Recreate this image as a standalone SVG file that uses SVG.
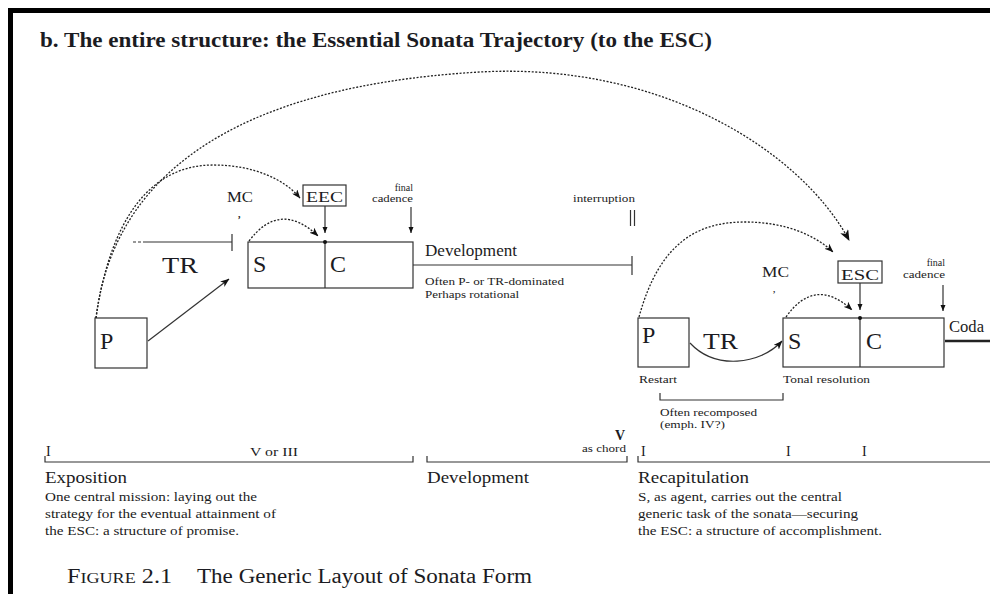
<svg xmlns="http://www.w3.org/2000/svg" width="990" height="594" viewBox="0 0 990 594">
<defs>
<marker id="ah" markerUnits="userSpaceOnUse" markerWidth="11" markerHeight="9" refX="10" refY="4.5" orient="auto"><path d="M0,0 L11,4.5 L0,9 L3,4.5 Z" fill="#111"/></marker>
<marker id="am" markerUnits="userSpaceOnUse" markerWidth="9" markerHeight="7" refX="8.5" refY="3.5" orient="auto"><path d="M0,0 L9,3.5 L0,7 L2.5,3.5 Z" fill="#111"/></marker>
<marker id="as" markerUnits="userSpaceOnUse" markerWidth="6" markerHeight="6" refX="6" refY="3" orient="auto"><path d="M0,0.5 L6,3 L0,5.5 Z" fill="#111"/></marker>
</defs>
<style>
text{font-family:"Liberation Serif","DejaVu Serif",serif;fill:#1b1b22}
.box{fill:none;stroke:#333;stroke-width:1.2}
.ln{fill:none;stroke:#333;stroke-width:1.2}
.dot{fill:none;stroke:#222;stroke-width:1.3;stroke-dasharray:2 1.6}
.big{font-size:24px}
.med{font-size:15px}
.lab{font-size:17px}
.sm{font-size:11px}
.xs{font-size:10px}
.desc{font-size:13px}
</style>
<rect width="990" height="594" fill="#fff"/>
<path d="M10.5,594 V10.5 H990" fill="none" stroke="#000" stroke-width="5"/>

<g id="title"><text x="40" y="47" font-size="20" font-weight="bold" textLength="672" lengthAdjust="spacingAndGlyphs">b. The entire structure: the Essential Sonata Trajectory (to the ESC)</text></g>

<g id="exp-P"><rect class="box" x="95" y="318" width="52" height="50"/><text class="big" x="100" y="349">P</text></g>
<g id="exp-TR"><path class="ln" d="M133,242 H146" stroke-dasharray="3 2" stroke="#888"/><path class="ln" d="M146,242 H232 M232,234 V251"/><text class="big" x="162" y="273" textLength="36" lengthAdjust="spacingAndGlyphs">TR</text></g>
<g id="exp-MC"><text class="med" x="227" y="202" textLength="26" lengthAdjust="spacingAndGlyphs">MC</text><text x="238" y="218" font-size="10" font-weight="bold">,</text></g>
<g id="exp-SC"><rect class="box" x="248" y="242" width="165" height="46"/><path class="ln" d="M325,242 V288"/><circle cx="325" cy="242" r="2" fill="#111"/><text class="big" x="253" y="272">S</text><text class="big" x="330" y="272">C</text></g>
<g id="EEC"><rect class="box" x="303" y="185" width="43" height="21"/><text x="306" y="202" font-size="15" textLength="37" lengthAdjust="spacingAndGlyphs">EEC</text></g>
<g id="exp-final-cadence"><text class="xs" x="413" y="191" text-anchor="end">final</text><text class="xs" x="413" y="202" text-anchor="end" textLength="41" lengthAdjust="spacingAndGlyphs">cadence</text></g>

<g id="development"><path class="ln" d="M413,265 H632 M632,256 V275"/><text class="lab" x="425" y="256" textLength="92" lengthAdjust="spacingAndGlyphs">Development</text><text class="sm" x="425" y="285" textLength="139" lengthAdjust="spacingAndGlyphs">Often P- or TR-dominated</text><text class="sm" x="425" y="298" textLength="94" lengthAdjust="spacingAndGlyphs">Perhaps rotational</text></g>
<g id="interruption"><text class="sm" x="573" y="202" textLength="62" lengthAdjust="spacingAndGlyphs">interruption</text><path class="ln" d="M630.5,210 V226 M634.5,210 V226"/></g>

<g id="rec-P"><rect class="box" x="638" y="318" width="51" height="49"/><text class="big" x="642" y="343">P</text><text class="sm" x="639" y="383" textLength="38" lengthAdjust="spacingAndGlyphs">Restart</text></g>
<g id="rec-TR"><text class="big" x="703" y="349" textLength="35" lengthAdjust="spacingAndGlyphs">TR</text><path class="ln" d="M660,393 V400 H783 V393"/><text class="sm" x="660" y="416" textLength="97" lengthAdjust="spacingAndGlyphs">Often recomposed</text><text class="sm" x="660" y="428" textLength="65" lengthAdjust="spacingAndGlyphs">(emph. IV?)</text></g>
<g id="rec-MC"><text class="med" x="762" y="277" textLength="27" lengthAdjust="spacingAndGlyphs">MC</text><text x="773" y="292" font-size="9" font-weight="bold">,</text></g>
<g id="rec-SC"><rect class="box" x="783" y="318" width="161" height="49"/><path class="ln" d="M860,318 V367"/><circle cx="860" cy="318" r="2" fill="#111"/><text class="big" x="788" y="349">S</text><text class="big" x="866" y="349">C</text><text class="sm" x="783" y="383" textLength="87" lengthAdjust="spacingAndGlyphs">Tonal resolution</text></g>
<g id="ESC"><rect class="box" x="838" y="261" width="44" height="22"/><text x="841" y="280" font-size="15" textLength="38" lengthAdjust="spacingAndGlyphs">ESC</text></g>
<g id="rec-final-cadence"><text class="xs" x="945" y="266" text-anchor="end">final</text><text class="xs" x="945" y="278" text-anchor="end" textLength="42" lengthAdjust="spacingAndGlyphs">cadence</text></g>
<g id="coda"><path d="M945,341 H990" stroke="#222" stroke-width="2.5"/><text x="949" y="332" font-size="16" textLength="35" lengthAdjust="spacingAndGlyphs">Coda</text></g>

<g id="timeline-exposition"><path class="ln" d="M45,456 V462 H413 V456"/><text x="46" y="456" font-size="14">I</text><text x="250" y="456" font-size="13" textLength="48" lengthAdjust="spacingAndGlyphs">V or III</text><text x="45" y="483" font-size="17" textLength="82" lengthAdjust="spacingAndGlyphs">Exposition</text><text class="desc" x="45" y="501" textLength="212" lengthAdjust="spacingAndGlyphs">One central mission: laying out the</text><text class="desc" x="45" y="518" textLength="231" lengthAdjust="spacingAndGlyphs">strategy for the eventual attainment of</text><text class="desc" x="45" y="535" textLength="194" lengthAdjust="spacingAndGlyphs">the ESC: a structure of promise.</text></g>
<g id="timeline-development"><path class="ln" d="M427,456 V462 H627 V456"/><text x="615" y="440" font-size="14" font-weight="bold">V</text><text class="sm" x="626" y="452" text-anchor="end" textLength="44" lengthAdjust="spacingAndGlyphs">as chord</text><text x="427" y="483" font-size="17" textLength="102" lengthAdjust="spacingAndGlyphs">Development</text></g>
<g id="timeline-recapitulation"><path class="ln" d="M638,456 V462 H990"/><text x="641" y="456" font-size="14">I</text><text x="786" y="456" font-size="14">I</text><text x="862" y="456" font-size="14">I</text><text x="638" y="483" font-size="17" textLength="111" lengthAdjust="spacingAndGlyphs">Recapitulation</text><text class="desc" x="638" y="501" textLength="204" lengthAdjust="spacingAndGlyphs">S, as agent, carries out the central</text><text class="desc" x="638" y="518" textLength="220" lengthAdjust="spacingAndGlyphs">generic task of the sonata—securing</text><text class="desc" x="638" y="535" textLength="244" lengthAdjust="spacingAndGlyphs">the ESC: a structure of accomplishment.</text></g>

<g id="caption"><text x="67" y="583" font-size="20" textLength="105" lengthAdjust="spacingAndGlyphs">F<tspan font-size="15">IGURE</tspan> 2.1</text><text x="197" y="583" font-size="20" textLength="335" lengthAdjust="spacingAndGlyphs">The Generic Layout of Sonata Form</text></g>

<g id="connectors">
<path class="dot" d="M96,318 C110,200 200,88 480,72 C660,62 800,150 849,240" marker-end="url(#ah)"/>
<path class="dot" d="M96,318 C110,220 150,165 213,165 C255,165 285,180 300,198" marker-end="url(#am)"/>
<path class="dot" d="M249,241 Q280,200 318,236" marker-end="url(#am)"/>
<path class="ln" d="M148,341 L229,279" marker-end="url(#am)"/>
<path class="ln" d="M325,206 V233" marker-end="url(#as)"/>
<path class="ln" d="M411,207 V233" marker-end="url(#as)"/>
<path class="dot" d="M639,317 C660,240 700,222 745,222 C785,222 815,235 833,252" marker-end="url(#am)"/>
<path class="dot" d="M786,317 Q815,276 852,310" marker-end="url(#am)"/>
<path class="ln" d="M690,343 C715,370 760,365 782,341" marker-end="url(#am)"/>
<path class="ln" d="M860,283 V310" marker-end="url(#as)"/>
<path class="ln" d="M943,285 V311" marker-end="url(#as)"/>
</g>
</svg>
